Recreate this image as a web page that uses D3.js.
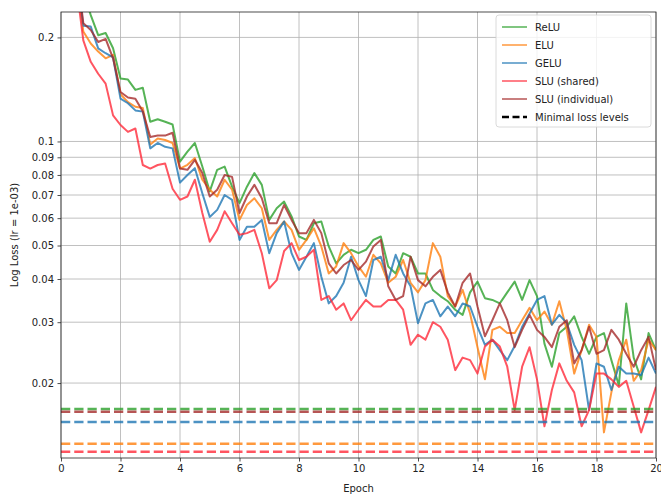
<!DOCTYPE html>
<html>
<head>
<meta charset="utf-8">
<script src="https://cdn.jsdelivr.net/npm/d3@7"></script>
<style>
  body { margin: 0; background: #fff; }
  text { font-family: "DejaVu Sans", sans-serif; }
</style>
</head>
<body>
<script>
// svg size + plot margins
var svgWidth = 661;
var svgHeight = 494;
var margin = { top: 12, right: 5, bottom: 36, left: 61 };
var width = svgWidth - margin.left - margin.right;
var height = svgHeight - margin.top - margin.bottom;

// epochs shared by every run (sampled every 0.25)
var epochs = [0.5, 0.75, 1, 1.25, 1.5, 1.75, 2, 2.25, 2.5, 2.75, 3, 3.25, 3.5, 3.75, 4, 4.25, 4.5, 4.75,
  5, 5.25, 5.5, 5.75, 6, 6.25, 6.5, 6.75, 7, 7.25, 7.5, 7.75, 8, 8.25, 8.5, 8.75, 9, 9.25, 9.5, 9.75,
  10, 10.25, 10.5, 10.75, 11, 11.25, 11.5, 11.75, 12, 12.25, 12.5, 12.75, 13, 13.25, 13.5, 13.75,
  14, 14.25, 14.5, 14.75, 15, 15.25, 15.5, 15.75, 16, 16.25, 16.5, 16.75, 17, 17.25, 17.5, 17.75,
  18, 18.25, 18.5, 18.75, 19, 19.25, 19.5, 19.75, 20];

var reluLoss = [0.34, 0.27, 0.232, 0.203, 0.206, 0.186, 0.152, 0.151, 0.141, 0.143, 0.114, 0.116, 0.114, 0.112,
  0.0874, 0.0935, 0.099, 0.0846, 0.0717, 0.0828, 0.0846, 0.074, 0.0663, 0.074, 0.081, 0.0749, 0.0593, 0.0641,
  0.067, 0.0607, 0.0531, 0.0519, 0.058, 0.0587, 0.0497, 0.0444, 0.047, 0.0486, 0.0475, 0.0486, 0.0519, 0.0531,
  0.0435, 0.0415, 0.0475, 0.0464, 0.0415, 0.0415, 0.0372, 0.0357, 0.0345, 0.0326, 0.0315, 0.0366, 0.0393,
  0.0352, 0.0348, 0.034, 0.0366, 0.0393, 0.0348, 0.0397, 0.0357, 0.026, 0.0223, 0.0279, 0.0291, 0.0312,
  0.0272, 0.0243, 0.0272, 0.0279, 0.0233, 0.0197, 0.034, 0.0237, 0.0205, 0.0279, 0.0249];

var eluLoss = [0.31, 0.208, 0.192, 0.182, 0.174, 0.178, 0.137, 0.13, 0.126, 0.125, 0.098, 0.102, 0.101, 0.099,
  0.0835, 0.0856, 0.0895, 0.0775, 0.0725, 0.0693, 0.0775, 0.0725, 0.0593, 0.0655, 0.0685, 0.0641, 0.0519, 0.0555,
  0.0587, 0.0555, 0.0486, 0.0519, 0.0561, 0.0497, 0.0415, 0.0435, 0.0508, 0.0475, 0.0435, 0.0406, 0.047, 0.0444,
  0.039, 0.0406, 0.0454, 0.039, 0.0366, 0.0397, 0.0508, 0.0464, 0.0357, 0.0333, 0.0372, 0.0318, 0.0254,
  0.0205, 0.0285, 0.0291, 0.0279, 0.0279, 0.0304, 0.033, 0.0304, 0.0322, 0.0295, 0.0345, 0.0285, 0.0213,
  0.0249, 0.0295, 0.0272, 0.0144, 0.0188, 0.0233, 0.0267, 0.0203, 0.0218, 0.0267, 0.0249];

var geluLoss = [0.32, 0.216, 0.215, 0.186, 0.18, 0.175, 0.133, 0.129, 0.123, 0.122, 0.0955, 0.099, 0.0965, 0.0955,
  0.076, 0.08, 0.0837, 0.0708, 0.0605, 0.0634, 0.07, 0.0678, 0.0519, 0.0567, 0.0567, 0.0593, 0.0475, 0.0543,
  0.0587, 0.0475, 0.0425, 0.0464, 0.0508, 0.0406, 0.034, 0.0357, 0.039, 0.0464, 0.0397, 0.0357, 0.0454, 0.0464,
  0.0397, 0.047, 0.0415, 0.0381, 0.0298, 0.034, 0.0348, 0.0312, 0.0333, 0.0312, 0.034, 0.0333, 0.0291,
  0.0258, 0.0267, 0.0249, 0.0233, 0.0256, 0.0291, 0.0318, 0.0348, 0.0357, 0.0295, 0.0315, 0.0298, 0.0258,
  0.0233, 0.0167, 0.0228, 0.0223, 0.0191, 0.0223, 0.0213, 0.0213, 0.0211, 0.0237, 0.0213];

var sluSharedLoss = [0.29, 0.196, 0.17, 0.157, 0.147, 0.119, 0.1116, 0.1066, 0.109, 0.0855, 0.0835, 0.0855, 0.0864, 0.073,
  0.0678, 0.0693, 0.0775, 0.0621, 0.0513, 0.0555, 0.0628, 0.058, 0.0537, 0.0543, 0.0555, 0.0475, 0.0376, 0.0397,
  0.0482, 0.0508, 0.0454, 0.0464, 0.0486, 0.0348, 0.0357, 0.0326, 0.034, 0.0304, 0.0326, 0.0348, 0.0333, 0.0333,
  0.0348, 0.0348, 0.0326, 0.0258, 0.0276, 0.0267, 0.03, 0.0291, 0.0267, 0.0218, 0.0237, 0.0233, 0.0213,
  0.0255, 0.0267, 0.0255, 0.0223, 0.0167, 0.0223, 0.0254, 0.0205, 0.015, 0.0191, 0.0228, 0.0203, 0.0188,
  0.015, 0.0167, 0.0213, 0.0213, 0.0205, 0.0195, 0.0203, 0.0171, 0.0144, 0.0167, 0.0195];

var sluIndivLoss = [0.33, 0.22, 0.21, 0.194, 0.198, 0.174, 0.139, 0.134, 0.133, 0.122, 0.103, 0.104, 0.104, 0.106,
  0.0835, 0.0828, 0.0885, 0.081, 0.0693, 0.0725, 0.08, 0.079, 0.0621, 0.0693, 0.0749, 0.0685, 0.058, 0.058,
  0.0655, 0.0593, 0.0543, 0.0543, 0.0593, 0.0543, 0.0444, 0.0415, 0.0439, 0.0454, 0.0425, 0.0449, 0.0497, 0.0519,
  0.0381, 0.0348, 0.0357, 0.0464, 0.0397, 0.0381, 0.0406, 0.0425, 0.0366, 0.0333, 0.039, 0.0415, 0.0333,
  0.0273, 0.0304, 0.034, 0.0304, 0.0254, 0.0285, 0.0315, 0.0285, 0.0272, 0.0254, 0.0291, 0.0304, 0.0228,
  0.0249, 0.0291, 0.0243, 0.0249, 0.0285, 0.0267, 0.0243, 0.0223, 0.0249, 0.0272, 0.0218];

var seriesNames = ["ReLU", "ELU", "GELU", "SLU (shared)", "SLU (individual)"];
var seriesColors = ["#2ca02c", "#ff7f0e", "#1f77b4", "#ff2a3a", "#a52a2a"];
var seriesLoss = [reluLoss, eluLoss, geluLoss, sluSharedLoss, sluIndivLoss];

// lowest loss reached by each run (dashed)
var minLevels = [0.01684, 0.01334, 0.01544, 0.01265, 0.01651];

var xTicks = [0, 2, 4, 6, 8, 10, 12, 14, 16, 18, 20];
var yTicks = [0.2, 0.1, 0.09, 0.08, 0.07, 0.06, 0.05, 0.04, 0.03, 0.02];

var svg = d3.select("body").append("svg")
  .attr("width", svgWidth)
  .attr("height", svgHeight);

var chartGroup = svg.append("g")
  .attr("transform", `translate(${margin.left}, ${margin.top})`);

var xScale = d3.scaleLinear().domain([0, 20]).range([0, width]);
var yScale = d3.scaleLog().domain([0.01214, 0.2369]).range([height, 0]);

// grid
chartGroup.append("g").selectAll("line")
  .data(xTicks).enter().append("line")
  .attr("x1", d => xScale(d)).attr("x2", d => xScale(d))
  .attr("y1", 0).attr("y2", height)
  .attr("stroke", "#b0b0b0").attr("stroke-width", 0.8);

chartGroup.append("g").selectAll("line")
  .data(yTicks).enter().append("line")
  .attr("x1", 0).attr("x2", width)
  .attr("y1", d => yScale(d)).attr("y2", d => yScale(d))
  .attr("stroke", "#b0b0b0").attr("stroke-width", 0.8);

svg.append("defs").append("clipPath").attr("id", "plotClip")
  .append("rect").attr("width", width).attr("height", height);

var plot = chartGroup.append("g").attr("clip-path", "url(#plotClip)");

var line = d3.line()
  .x((d, i) => xScale(epochs[i]))
  .y(d => yScale(d));

seriesLoss.forEach(function (vals, i) {
  plot.append("path")
    .datum(vals)
    .attr("d", line)
    .attr("fill", "none")
    .attr("stroke", seriesColors[i])
    .attr("stroke-opacity", 0.8)
    .attr("stroke-width", 2)
    .attr("stroke-linejoin", "round");
});

minLevels.forEach(function (v, i) {
  plot.append("line")
    .attr("x1", 0).attr("x2", width)
    .attr("y1", yScale(v)).attr("y2", yScale(v))
    .attr("stroke", seriesColors[i])
    .attr("stroke-opacity", 0.8)
    .attr("stroke-width", 2.5)
    .attr("stroke-dasharray", "9.25,4");
});

// axes
var bottomAxis = d3.axisBottom(xScale).tickValues(xTicks).tickSize(3.5).tickPadding(3.5);
var leftAxis = d3.axisLeft(yScale).tickValues(yTicks).tickFormat(d => String(d)).tickSize(3.5).tickPadding(3.5);

var xAxis = chartGroup.append("g")
  .attr("transform", `translate(0, ${height})`)
  .call(bottomAxis);
var yAxis = chartGroup.append("g").call(leftAxis);

[xAxis, yAxis].forEach(function (ax) {
  ax.select(".domain").remove();
  ax.selectAll("text").attr("font-size", 10).attr("fill", "#222").style("font-family", "DejaVu Sans");
  ax.selectAll("line").attr("stroke", "#222").attr("stroke-width", 0.8);
});

// frame
chartGroup.append("rect")
  .attr("width", width).attr("height", height)
  .attr("fill", "none").attr("stroke", "#222").attr("stroke-width", 0.8);

// labels
svg.append("text")
  .attr("x", margin.left + width / 2)
  .attr("y", 492)
  .attr("text-anchor", "middle")
  .attr("font-size", 10)
  .attr("fill", "#222")
  .text("Epoch");

svg.append("text")
  .attr("transform", `translate(18, ${margin.top + height / 2}) rotate(-90)`)
  .attr("text-anchor", "middle")
  .attr("font-size", 10)
  .attr("fill", "#222")
  .text("Log Loss (lr = 1e-03)");

// legend
var legend = svg.append("g").attr("transform", "translate(496, 15)");
legend.append("rect")
  .attr("width", 155).attr("height", 112)
  .attr("rx", 3)
  .attr("fill", "#fff").attr("fill-opacity", 0.8)
  .attr("stroke", "#d0d0d0").attr("stroke-width", 0.8);

var legendItems = seriesNames.map((n, i) => ({ name: n, color: seriesColors[i], dash: false }));
legendItems.push({ name: "Minimal loss levels", color: "#000", dash: true });

legendItems.forEach(function (item, i) {
  var yy = 12 + i * 18;
  legend.append("line")
    .attr("x1", 6).attr("x2", 31)
    .attr("y1", yy).attr("y2", yy)
    .attr("stroke", item.color)
    .attr("stroke-opacity", item.dash ? 1 : 0.8)
    .attr("stroke-width", item.dash ? 2.5 : 1.5)
    .attr("stroke-dasharray", item.dash ? "7,3.5" : null);
  legend.append("text")
    .attr("x", 39).attr("y", yy + 3.5)
    .attr("font-size", 10)
    .attr("fill", "#222")
    .text(item.name);
});
</script>
</body>
</html>
